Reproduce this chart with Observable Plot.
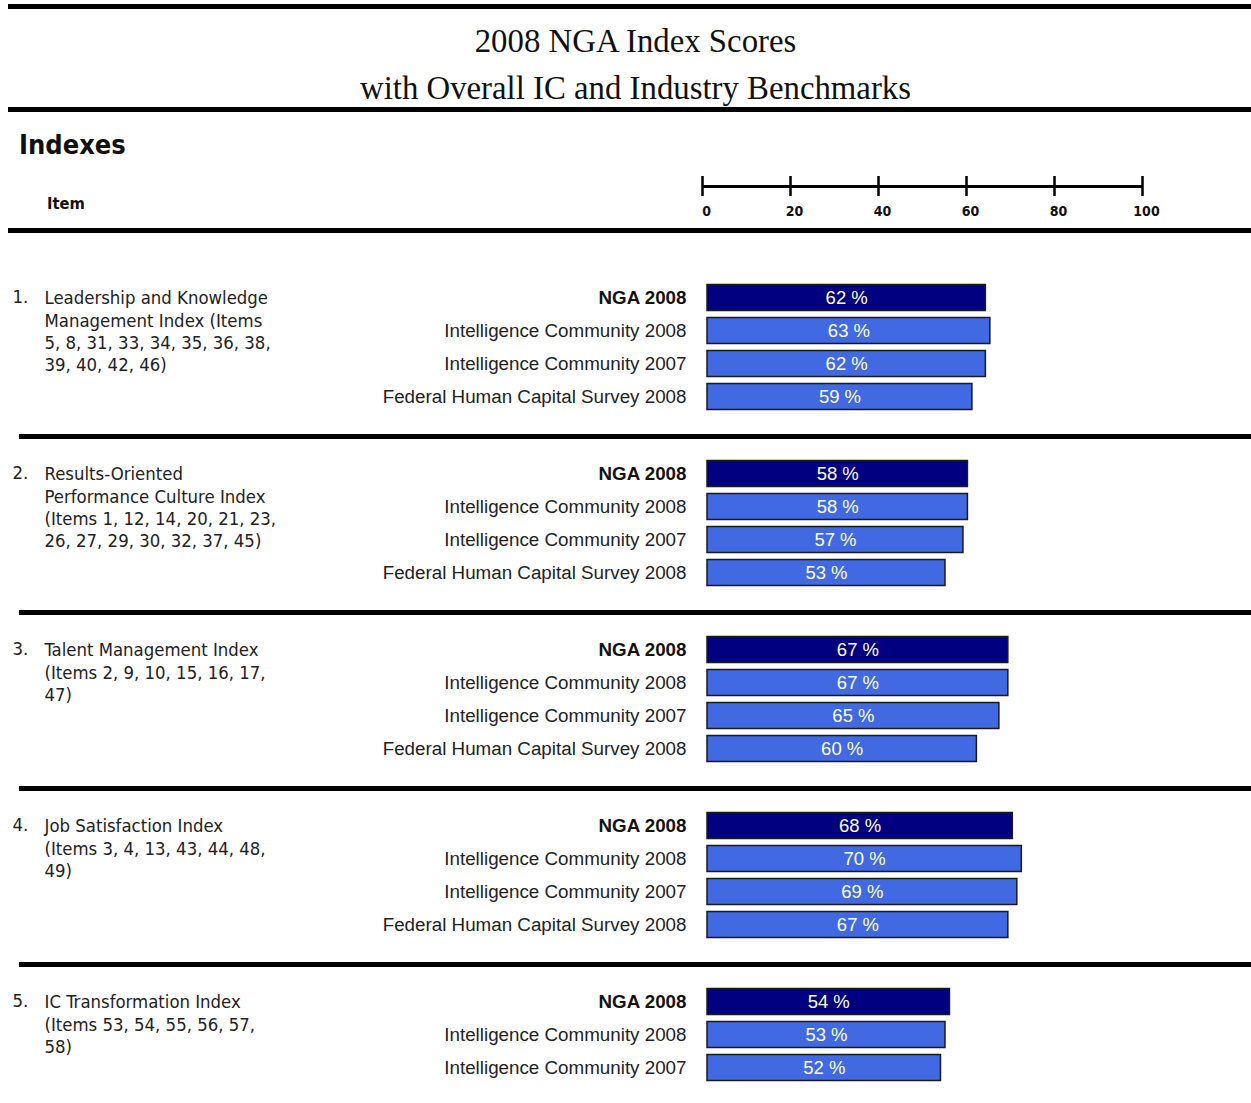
<!DOCTYPE html>
<html>
<head>
<meta charset="utf-8">
<script src="https://cdn.jsdelivr.net/npm/d3@7"></script>
<script src="https://cdn.jsdelivr.net/npm/@observablehq/plot@0.6"></script>
<style>
html, body { margin: 0; padding: 0; background: #fff; overflow: hidden; width: 1251px; height: 1103px; }
#page { position: relative; width: 1251px; height: 1103px; }
.rule { position: absolute; background: #000; }
.title { position: absolute; left: 10px; width: 1251px; text-align: center; font-family: "Liberation Serif", "Times New Roman", serif; font-size: 32.8px; line-height: 32.8px; color: #111; white-space: nowrap; }
.abs { position: absolute; white-space: nowrap; }
#axis { position: absolute; left: 0; top: 166px; }
#main { position: absolute; left: 0; top: 240px; }
</style>
</head>
<body>
<div id="page">
  <div class="rule" style="left:8px; top:4px; width:1243px; height:5px;"></div>
  <div class="title" style="top:25px;">2008 NGA Index Scores</div>
  <div class="title" style="top:72px;">with Overall IC and Industry Benchmarks</div>
  <div class="rule" style="left:8px; top:107px; width:1243px; height:5px;"></div>
  <div class="abs" style="left:19px; top:131px; font-family:'DejaVu Sans Condensed','DejaVu Sans',sans-serif; font-stretch:condensed; font-weight:bold; font-size:27px; line-height:27px; color:#111;">Indexes</div>
  <div class="abs" style="left:47px; top:196px; font-family:'DejaVu Sans Condensed','DejaVu Sans',sans-serif; font-stretch:condensed; font-weight:bold; font-size:16.4px; line-height:16.4px; color:#111;">Item</div>
  <div class="rule" style="left:8px; top:228px; width:1243px; height:5px;"></div>
  <div id="axis"></div>
  <div id="main"></div>
</div>
<script>
// ---- data ----
const groups = [1, 2, 3, 4, 5];
const groupTitles = [
  "Leadership and Knowledge\nManagement Index (Items\n5, 8, 31, 33, 34, 35, 36, 38,\n39, 40, 42, 46)",
  "Results-Oriented\nPerformance Culture Index\n(Items 1, 12, 14, 20, 21, 23,\n26, 27, 29, 30, 32, 37, 45)",
  "Talent Management Index\n(Items 2, 9, 10, 15, 16, 17,\n47)",
  "Job Satisfaction Index\n(Items 3, 4, 13, 43, 44, 48,\n49)",
  "IC Transformation Index\n(Items 53, 54, 55, 56, 57,\n58)"
];
const series = ["NGA 2008", "Intelligence Community 2008", "Intelligence Community 2007", "Federal Human Capital Survey 2008"];
const nga2008 = [62, 58, 67, 68, 54];
const ic2008 = [63, 58, 67, 70, 53];
const ic2007 = [62, 57, 65, 69, 52];
const fhcs2008 = [59, 53, 60, 67, null];
const axisTicks = [0, 20, 40, 60, 80, 100];

// ---- build tables ----
const seriesValues = [nga2008, ic2008, ic2007, fhcs2008];
const rows = [];
groups.forEach((g, gi) => {
  series.forEach((s, si) => {
    const v = seriesValues[si][gi];
    if (v != null) rows.push({group: g, series: s, value: v});
  });
});
const groupInfo = groups.map((g, i) => ({group: g, num: g + ".", title: groupTitles[i]}));

const sans = "'Liberation Sans', Arial, sans-serif";
const tahoma = "'DejaVu Sans Condensed', 'DejaVu Sans', sans-serif";

// ---- header axis ----
const axisPlot = Plot.plot({
  width: 1251, height: 60,
  marginLeft: 702, marginRight: 109, marginTop: 10, marginBottom: 30,
  x: {domain: [0, 100], axis: null},
  y: {domain: [0, 1], axis: null},
  marks: [
    Plot.ruleY([0.5], {stroke: "#000", strokeWidth: 3}),
    Plot.tickX(axisTicks, {x: d => d, stroke: "#000", strokeWidth: 2.5}),
    Plot.text(axisTicks, {x: d => d, frameAnchor: "bottom", dy: 19, dx: 4, text: d => String(d),
      fontFamily: tahoma, fontWeight: "bold", fontSize: 14, fill: "#111"})
  ]
});
document.getElementById("axis").appendChild(axisPlot);

// ---- main chart ----
const colorFor = s => s === "NGA 2008" ? "#000080" : "#4169E1";
const main = Plot.plot({
  width: 1251, height: 877,
  marginTop: 40.5, marginBottom: 0, marginLeft: 707, marginRight: 95,
  x: {domain: [0, 100], axis: null},
  y: {domain: series, axis: null, paddingInner: 0.2, paddingOuter: 0.1},
  fy: {domain: groups, axis: null, paddingInner: 0.25, paddingOuter: 0},
  marks: [
    Plot.ruleY(groups.slice(1), {fy: d => d, y: () => series[0], dy: -37.5,
      stroke: "#000", strokeWidth: 5, insetLeft: -688, insetRight: -95}),
    Plot.barX(rows, {x: "value", y: "series", fy: "group", fill: d => colorFor(d.series),
      stroke: "#1a1a1a", strokeWidth: 1.5}),
    Plot.text(rows, {x: d => d.value / 2, y: "series", fy: "group", text: d => `${d.value} %`,
      fill: "white", fontFamily: sans, fontSize: 18.5}),
    Plot.text(rows.filter(d => d.series === "NGA 2008"), {y: "series", fy: "group", text: "series",
      frameAnchor: "left", textAnchor: "end", dx: -21, fill: "#111", fontFamily: sans, fontWeight: "bold", fontSize: 18.8}),
    Plot.text(rows.filter(d => d.series !== "NGA 2008"), {y: "series", fy: "group", text: "series",
      frameAnchor: "left", textAnchor: "end", dx: -21, fill: "#222", fontFamily: sans, fontSize: 18.8}),
    Plot.text(groupInfo, {fy: "group", text: "num", frameAnchor: "top-left", lineAnchor: "top",
      textAnchor: "start", dx: -695, dy: 8, fill: "#222", fontFamily: tahoma, fontSize: 18.4}),
    Plot.text(groupInfo, {fy: "group", text: "title", frameAnchor: "top-left", lineAnchor: "top",
      textAnchor: "start", dx: -663, dy: 7, lineHeight: 1.21, fill: "#222", fontFamily: tahoma, fontSize: 18.4})
  ]
});
document.getElementById("main").appendChild(main);
</script>
</body>
</html>
